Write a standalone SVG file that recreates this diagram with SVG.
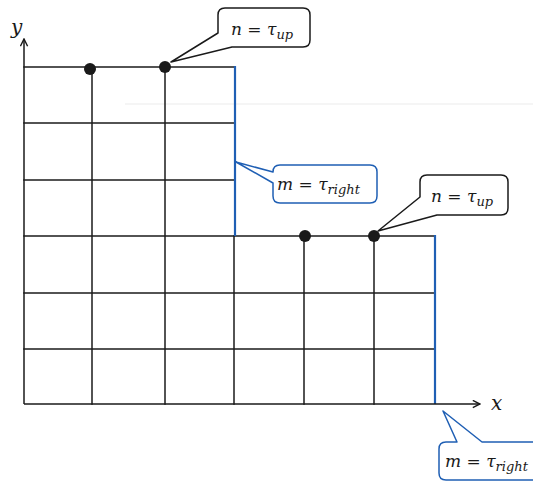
<svg xmlns="http://www.w3.org/2000/svg" width="533" height="483" viewBox="0 0 533 483">
  <style>
    .grid { stroke: #1a1a1a; stroke-width: 1.5; fill: none; stroke-linecap: square; }
    .axis { stroke: #1a1a1a; stroke-width: 1.5; fill: none; }
    .bound { stroke: #1f5fb4; stroke-width: 2.2; fill: none; }
    .dot { fill: #1a1a1a; }
    .callout-k { fill: #ffffff; stroke: #1a1a1a; stroke-width: 1.5; stroke-linejoin: round; }
    .callout-b { fill: #ffffff; stroke: #1f5fb4; stroke-width: 1.5; stroke-linejoin: round; }
    .math { font-family: "DejaVu Serif", "Liberation Serif", serif; font-style: italic; font-size: 17px; fill: #1a1a1a; }
    .op { font-style: normal; }
    .sub { font-size: 13px; }
    .axlabel { font-family: "DejaVu Serif", "Liberation Serif", serif; font-style: italic; font-size: 20px; fill: #1a1a1a; }
  </style>
  <defs>
    <marker id="arrow" viewBox="0 0 10 10" refX="9" refY="5" markerWidth="9" markerHeight="9" markerUnits="userSpaceOnUse" orient="auto">
      <path d="M1,1 L9,5 L1,9" fill="none" stroke="#1a1a1a" stroke-width="1.6"/>
    </marker>
  </defs>
  <rect width="533" height="483" fill="#ffffff"/>
  <line x1="125" y1="104" x2="533" y2="104" stroke="#ebebeb" stroke-width="1"/>

  <g id="grid">
    <!-- horizontal lines, upper block -->
    <line class="grid" x1="24" y1="67" x2="234" y2="67"/>
    <line class="grid" x1="24" y1="123" x2="234" y2="123"/>
    <line class="grid" x1="24" y1="180" x2="234" y2="180"/>
    <!-- horizontal lines, lower block -->
    <line class="grid" x1="24" y1="236" x2="434" y2="236"/>
    <line class="grid" x1="24" y1="293" x2="434" y2="293"/>
    <line class="grid" x1="24" y1="349" x2="434" y2="349"/>
    <!-- vertical lines -->
    <line class="grid" x1="92" y1="67" x2="92" y2="404"/>
    <line class="grid" x1="165" y1="67" x2="165" y2="404"/>
    <line class="grid" x1="234" y1="236" x2="234" y2="404"/>
    <line class="grid" x1="304" y1="236" x2="304" y2="404"/>
    <line class="grid" x1="374" y1="236" x2="374" y2="404"/>
  </g>

  <g id="boundaries">
    <line class="bound" x1="235" y1="66" x2="235" y2="236"/>
    <line class="bound" x1="435" y1="235" x2="435" y2="404"/>
  </g>

  <g id="axes">
    <line class="axis" x1="24" y1="404" x2="24" y2="39" marker-end="url(#arrow)"/>
    <line class="axis" x1="24" y1="404" x2="480" y2="404" marker-end="url(#arrow)"/>
    <text class="axlabel" x="11" y="34">y</text>
    <text class="axlabel" x="491" y="410">x</text>
  </g>

  <g id="points">
    <circle class="dot" cx="90" cy="69" r="6"/>
    <circle class="dot" cx="165" cy="67" r="6"/>
    <circle class="dot" cx="305" cy="236" r="6"/>
    <circle class="dot" cx="374" cy="236" r="6"/>
  </g>

  <g id="connectors">
    <!-- callout pointers are drawn together with their boxes below -->
  </g>

  <g id="callout-up-1">
    <path class="callout-k" d="M225,8 H303 Q310,8 310,15 V40 Q310,47 303,47 H232 L171,62 L218,33 V15 Q218,8 225,8 Z"/>
    <text class="math" x="231" y="35">n<tspan class="op"> = </tspan>τ<tspan class="sub" dy="4">up</tspan></text>
  </g>

  <g id="callout-right-1">
    <path class="callout-b" d="M280,165 H370 Q377,165 377,172 V196 Q377,203 370,203 H280 Q273,203 273,196 V183 L236,162 L273,172 Q273,165 280,165 Z"/>
    <text class="math" x="277" y="190">m<tspan class="op"> = </tspan>τ<tspan class="sub" dy="4">right</tspan></text>
  </g>

  <g id="callout-up-2">
    <path class="callout-k" d="M427,175 H501 Q508,175 508,182 V208 Q508,215 501,215 H437 L378,231 L420,197 V182 Q420,175 427,175 Z"/>
    <text class="math" x="431" y="202">n<tspan class="op"> = </tspan>τ<tspan class="sub" dy="4">up</tspan></text>
  </g>

  <g id="callout-right-2">
    <path class="callout-b" d="M446,442 H457 L443,411 L482,442 H545 V480 H446 Q439,480 439,473 V449 Q439,442 446,442 Z"/>
    <text class="math" x="445" y="467">m<tspan class="op"> = </tspan>τ<tspan class="sub" dy="4">right</tspan></text>
  </g>
</svg>
